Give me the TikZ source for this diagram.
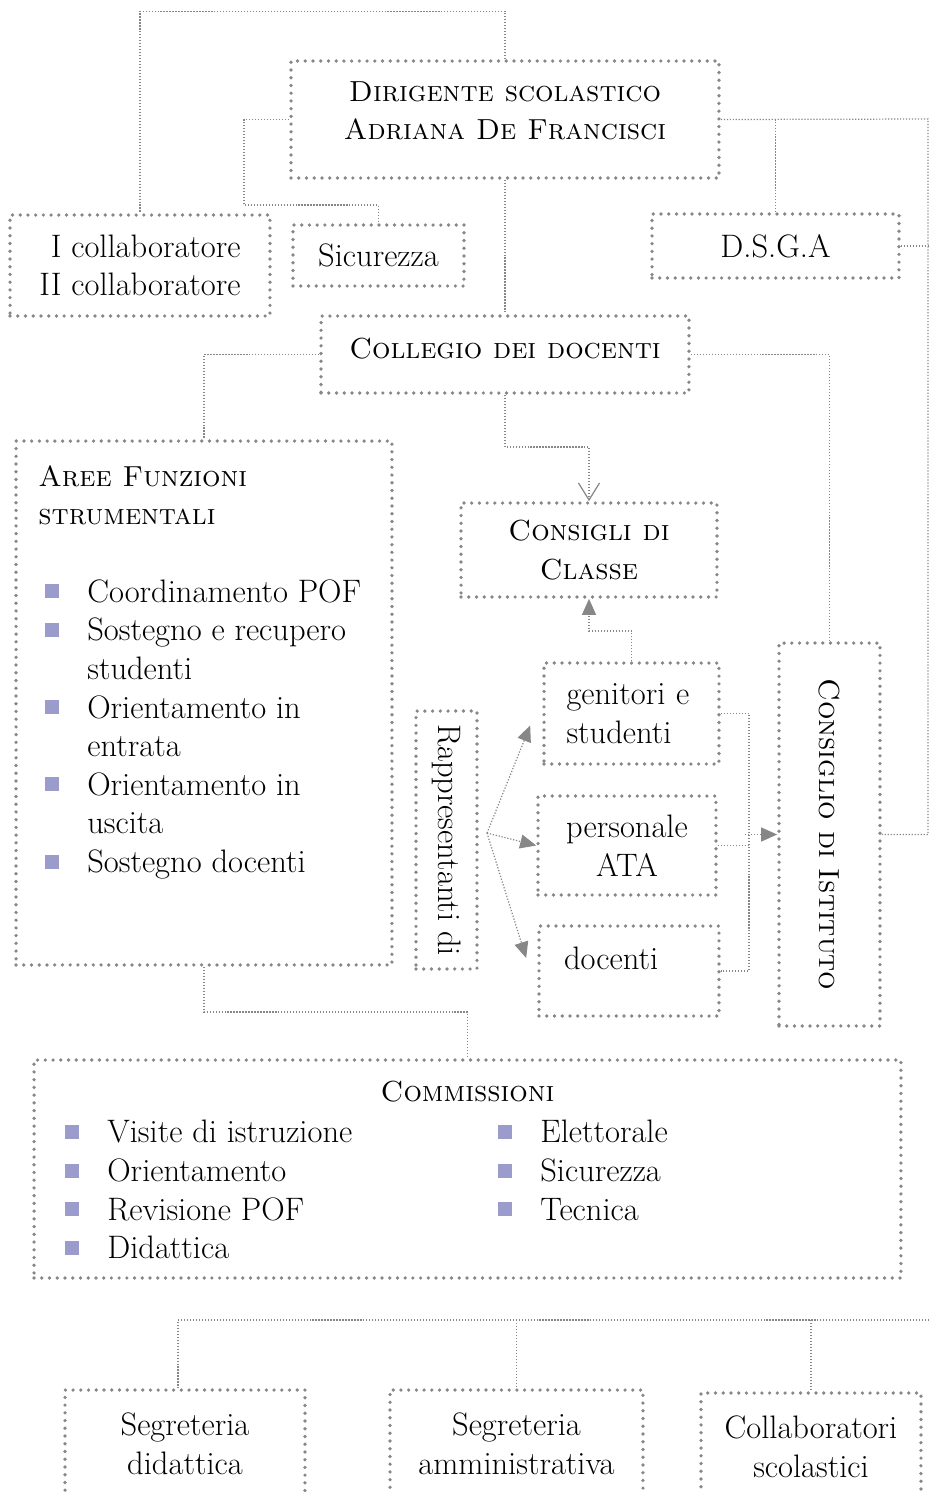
\documentclass[tikz,border=0pt]{standalone}
\usepackage{fontspec}
\usetikzlibrary{arrows.meta}
\definecolor{ORGgray}{RGB}{135,135,135}
\definecolor{ORGlilac}{RGB}{155,155,204}
\newcommand{\ORGfont}{\fontsize{18.5}{22}\selectfont}
\newcommand{\ORGscfont}{\fontsize{16.5}{22}\selectfont\scshape}
\newcommand{\ORGitem}{\makebox[0.84cm][l]{\textcolor{ORGlilac}{\rule[0.08cm]{0.28cm}{0.28cm}}}}
\newcommand{\ORGindent}{\hspace*{0.84cm}}
\tikzstyle{ORGbox}=[draw=ORGgray, line width=2.1pt, line cap=round, dash pattern=on 0pt off 4.4pt, inner sep=0pt, align=center, font=\ORGfont]
\tikzstyle{ORGsc}=[ORGbox, font=\ORGscfont]
\tikzstyle{ORGtext}=[inner sep=0pt, align=left, font=\ORGfont]
\tikzstyle{ORGlink}=[draw=ORGgray, line width=0.7pt, densely dotted]
\tikzstyle{ORGarrow}=[ORGlink, -{Triangle[length=0.32cm, width=0.28cm]}]
\tikzstyle{ORGopen}=[ORGlink, -{Straight Barb[length=0.34cm, width=0.42cm]}]

\begin{document}
\begin{tikzpicture}[x=0.02cm, y=-0.02cm]
    \path [use as bounding box] (0,0) rectangle (929,1492);
    \node [ORGsc, text depth=0.36cm, minimum width=8.56cm, minimum height=2.34cm] (dirigente) at (505,119.5) {Dirigente scolastico\\Adriana De Francisci};
    \node [ORGbox, align=right, minimum width=5.2cm, minimum height=2.02cm] (collab) at (140,265.5) {I collaboratore\\II collaboratore};
    \node [ORGbox, minimum width=3.42cm, minimum height=1.22cm] (sicurezza) at (378.5,255.5) {Sicurezza};
    \node [ORGbox, minimum width=4.94cm, minimum height=1.28cm] (dsga) at (775.5,246) {D.S.G.A};
    \node [ORGsc, text depth=0.26cm, minimum width=7.36cm, minimum height=1.54cm] (collegio) at (505,354.5) {Collegio dei docenti};
    \node [ORGbox, minimum width=7.52cm, minimum height=10.48cm] (aree) at (204,703) {};
    \node [ORGtext, anchor=north west] (areetxt) at (38,465) {{\ORGscfont Aree Funzioni}\\{\ORGscfont strumentali}\\[22pt]
        \hspace*{0.14cm}\ORGitem Coordinamento POF\\
        \hspace*{0.14cm}\ORGitem Sostegno e recupero\\
        \hspace*{0.14cm}\ORGindent studenti\\
        \hspace*{0.14cm}\ORGitem Orientamento in\\
        \hspace*{0.14cm}\ORGindent entrata\\
        \hspace*{0.14cm}\ORGitem Orientamento in\\
        \hspace*{0.14cm}\ORGindent uscita\\
        \hspace*{0.14cm}\ORGitem Sostegno docenti};
    \node [ORGsc, minimum width=5.12cm, minimum height=1.88cm] (classe) at (589,550) {Consigli di\\Classe};
    \node [ORGbox, text width=2.6cm, align=left, minimum width=3.5cm, minimum height=2.02cm] (genitori) at (631.5,713.5) {genitori e\\studenti};
    \node [ORGbox, minimum width=3.56cm, minimum height=1.98cm] (ata) at (627,845.5) {personale\\ATA};
    \node [ORGbox, text width=2.6cm, align=left, minimum width=3.6cm, minimum height=1.8cm] (docenti) at (629,971) {docenti\\[-8pt]\mbox{}};
    \node [ORGbox, minimum width=1.22cm, minimum height=5.16cm] (rappr) at (446.5,840) {\rotatebox{-90}{Rappresentanti di}};
    \node [ORGbox, minimum width=2.02cm, minimum height=7.66cm] (istituto) at (829.5,834.5) {\rotatebox{-90}{\ORGscfont Consiglio di Istituto}};
    \node [ORGbox, minimum width=17.34cm, minimum height=4.36cm] (commissioni) at (467.5,1169) {};
    \node [ORGtext, font=\ORGscfont] (commtitle) at (467.5,1092) {Commissioni};
    \node [ORGtext, anchor=north west] (commleft) at (65,1120) {\ORGitem Visite di istruzione\\\ORGitem Orientamento\\\ORGitem Revisione POF\\\ORGitem Didattica};
    \node [ORGtext, anchor=north west] (commright) at (498,1120) {\ORGitem Elettorale\\\ORGitem Sicurezza\\\ORGitem Tecnica};
    \node [ORGbox, minimum width=4.8cm, minimum height=2.16cm] (segdid) at (185,1444) {Segreteria\\didattica};
    \node [ORGbox, minimum width=5.06cm, minimum height=2.16cm] (segamm) at (516.5,1444) {Segreteria\\amministrativa};
    \node [ORGbox, minimum width=4.4cm, minimum height=2.16cm] (collscol) at (811,1447) {Collaboratori\\scolastici};

    \coordinate (edge) at (928,119);
    \coordinate (fork) at (487,833);
    \coordinate (merge) at (745,834.5);
    \coordinate (offpage) at (929,1320);

    \draw [ORGlink] (dirigente.north) -- ++(0,-48) -| (collab.north);
    \draw [ORGlink] (dirigente.west) -| (244,205) -| (sicurezza.north);
    \draw [ORGlink] (dirigente.east) -- (edge) |- (istituto.east);
    \draw [ORGlink] (dirigente.east) -| (dsga.north);
    \draw [ORGlink] (dsga.east) -- (edge |- dsga.east);
    \draw [ORGlink] (dirigente.south) -- (collegio.north);
    \draw [ORGlink] (collegio.west) -| (aree.north);
    \draw [ORGlink] (collegio.east) -| (istituto.north);
    \draw [ORGopen] (collegio.south) -- (505,447) -| (classe.north);
    \draw [ORGarrow] (genitori.north) -- (631.5,631) -| (classe.south);
    \draw [ORGarrow] (fork) -- ([shift={(-12,12)}]genitori.west);
    \draw [ORGarrow] (fork) -- (ata.west);
    \draw [ORGarrow] (fork) -- ([shift={(-11,-13)}]docenti.west);
    \draw [ORGlink] (genitori.east) -- (749,713.5) |- (docenti.east);
    \draw [ORGlink] (ata.east) -- (749,845.5);
    \draw [ORGarrow] (merge) -- (istituto.west);
    \draw [ORGlink] (aree.south) -- (204,1012) -| (commissioni.north);
    \draw [ORGlink] (offpage) -| ([xshift=-0.14cm]segdid.north);
    \draw [ORGlink] (offpage -| segamm.north) -- (segamm.north);
    \draw [ORGlink] (offpage -| collscol.north) -- (collscol.north);
\end{tikzpicture}
\end{document}
